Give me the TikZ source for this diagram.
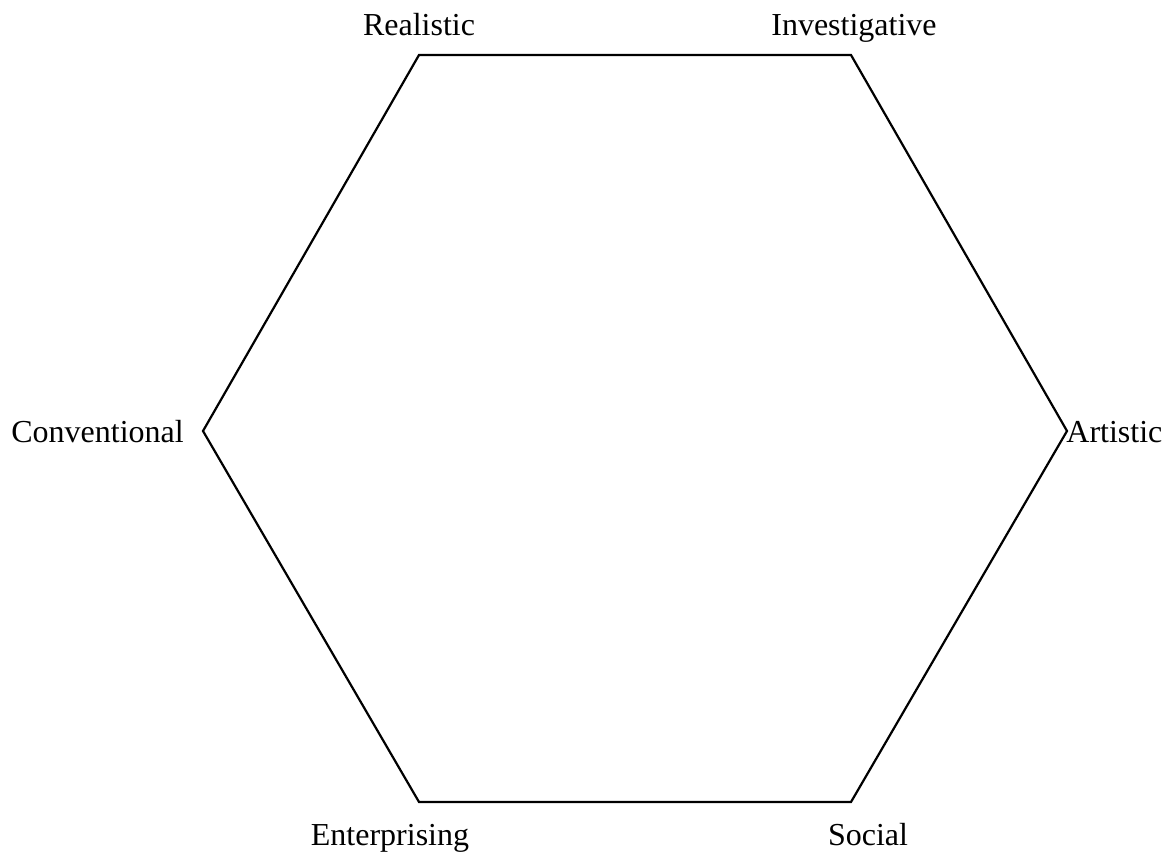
\documentclass[tikz,border=0pt]{standalone}
\usepackage{fontspec}
\setmainfont{Liberation Serif}
\begin{document}
\begin{tikzpicture}[x=0.5pt,y=-0.5pt,
    hexline/.style={line width=1.1pt,line join=miter},
    lbl/.style={inner sep=0pt,font=\fontsize{16}{19}\selectfont}]
      \useasboundingbox (0,0) rectangle (1166,855);

      \coordinate (r) at (419,55);
      \coordinate (i) at (851,55);
      \coordinate (a) at (1067,431);
      \coordinate (s) at (851,802);
      \coordinate (e) at (419,802);
      \coordinate (c) at (203,431);

      \draw[hexline] (r) -- (i) -- (a) -- (s) -- (e) -- (c) -- cycle;

      \node[lbl,anchor=base] (lr) at (419,36) {Realistic};
      \node[lbl,anchor=base] (li) at (854,36) {Investigative};
      \node[lbl,anchor=base west] (la) at (1066,442) {Artistic};
      \node[lbl,anchor=base] (ls) at (868,845) {Social};
      \node[lbl,anchor=base] (le) at (390,845) {Enterprising};
      \node[lbl,anchor=base west] (lc) at (11,442) {Conventional};
    \end{tikzpicture}
\end{document}
